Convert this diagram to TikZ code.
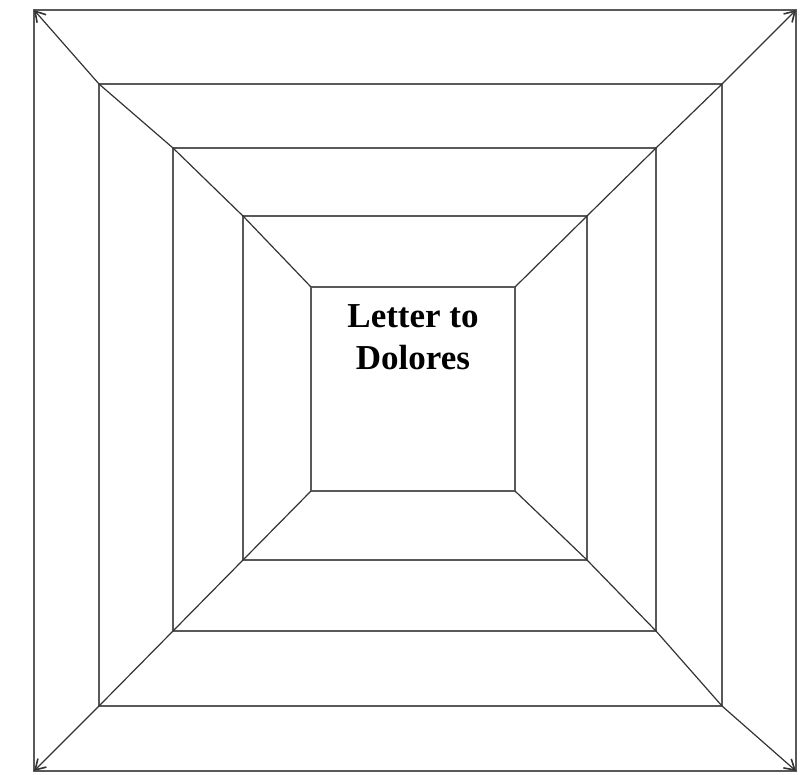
\documentclass[tikz,border=0pt]{standalone}
\usepackage{fontspec}
\setmainfont{Liberation Serif}
\usetikzlibrary{arrows.meta}
\tikzset{
  frame/.style={draw=black!65, line width=1.3pt},
  diag/.style={draw=black!80, line width=1.2pt, -{Straight Barb[length=10pt,width=12pt,line width=1.6pt]}},
  label/.style={font=\fontsize{35}{42}\selectfont\bfseries, inner sep=0pt, anchor=base}
}
\begin{document}
\begin{tikzpicture}[x=1pt,y=-1pt]
\useasboundingbox (0,0) rectangle (800,774);
% corners of the five nested squares
\coordinate (a1) at (34,10);   \coordinate (b1) at (796,10);
\coordinate (c1) at (796,771); \coordinate (d1) at (34,771);
\coordinate (a2) at (99,84);   \coordinate (b2) at (722,84);
\coordinate (c2) at (722,706); \coordinate (d2) at (99,706);
\coordinate (a3) at (173,148); \coordinate (b3) at (656,148);
\coordinate (c3) at (656,631); \coordinate (d3) at (173,631);
\coordinate (a4) at (243,216); \coordinate (b4) at (587,216);
\coordinate (c4) at (587,560); \coordinate (d4) at (243,560);
\coordinate (a5) at (311,287); \coordinate (b5) at (515,287);
\coordinate (c5) at (515,491); \coordinate (d5) at (311,491);
\foreach \i in {1,...,5}{
  \draw[frame] (a\i) -- (b\i) -- (c\i) -- (d\i) -- cycle;
}
\draw[diag] (a5) -- (a4) -- (a3) -- (a2) -- (a1);
\draw[diag] (b5) -- (b4) -- (b3) -- (b2) -- (b1);
\draw[diag] (c5) -- (c4) -- (c3) -- (c2) -- (c1);
\draw[diag] (d5) -- (d4) -- (d3) -- (d2) -- (d1);
\node[label] (line1) at (413,327) {Letter to};
\node[label] (line2) at (413,369) {Dolores};
\end{tikzpicture}
\end{document}
